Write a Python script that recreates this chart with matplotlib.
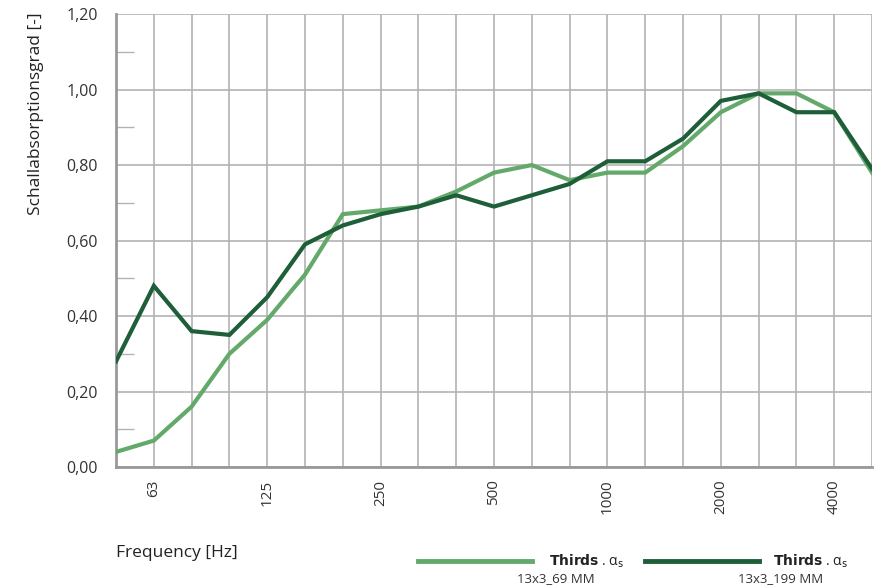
import matplotlib
matplotlib.use("Agg")
import matplotlib.pyplot as plt
from matplotlib.lines import Line2D
from matplotlib.ticker import MultipleLocator, FixedLocator

plt.rcParams['font.family'] = ['Open Sans', 'DejaVu Sans']
plt.rcParams['mathtext.fontset'] = 'dejavusans'

# --- Data ---
freqs = ["50", "63", "80", "100", "125", "160", "200", "250", "315", "400", "500",
         "630", "800", "1000", "1250", "1600", "2000", "2500", "3150", "4000", "5000"]
shown_labels = ["63", "125", "250", "500", "1000", "2000", "4000"]

alpha_69 = [0.04, 0.07, 0.16, 0.30, 0.39, 0.51, 0.67, 0.68, 0.69, 0.73, 0.78,
            0.80, 0.76, 0.78, 0.78, 0.85, 0.94, 0.99, 0.99, 0.94, 0.78]
alpha_199 = [0.28, 0.48, 0.36, 0.35, 0.45, 0.59, 0.64, 0.67, 0.69, 0.72, 0.69,
             0.72, 0.75, 0.81, 0.81, 0.87, 0.97, 0.99, 0.94, 0.94, 0.79]

LIGHT = "#62a96a"
DARK = "#1e5e38"
GRID = "#b3b3b3"

fig = plt.figure(figsize=(8.81, 5.87), dpi=100)
ax = fig.add_axes([0.1317, 0.2044, 0.8581, 0.7716])

x = list(range(len(freqs)))
ax.plot(x, alpha_69, color=LIGHT, lw=3, solid_joinstyle='miter', zorder=3)
ax.plot(x, alpha_199, color=DARK, lw=3, solid_joinstyle='miter', zorder=4)

ax.set_xlim(0, len(freqs) - 1)
ax.set_ylim(0, 1.2)

# x ticks: gridline at every third-octave band, labels only at octaves
ax.xaxis.set_major_locator(FixedLocator(x))
ax.set_xticklabels([f if f in shown_labels else "" for f in freqs],
                   rotation=90, fontsize=11, color="#333333")
ax.tick_params(axis='x', length=0, pad=9)

ax.yaxis.set_major_locator(MultipleLocator(0.2))
ax.yaxis.set_minor_locator(MultipleLocator(0.1))
ax.set_yticklabels([f"{v:.2f}".replace(".", ",") for v in ax.get_yticks()],
                   fontsize=11.5, color="#333333")
ax.tick_params(axis='y', which='major', length=0, pad=13)
ax.tick_params(axis='y', which='minor', direction='in', length=13, width=1, color=GRID)

ax.grid(True, which='major', color=GRID, lw=1.2)
ax.set_axisbelow(True)

for s in ["top", "right"]:
    ax.spines[s].set_visible(False)
for s in ["left", "bottom"]:
    ax.spines[s].set_color("#999999")
    ax.spines[s].set_linewidth(2)

ax.set_ylabel("Schallabsorptionsgrad [-]", fontsize=12.5, color="#222222")
ax.yaxis.set_label_coords(-0.095, 0.78)
fig.text(116 / 881, 1 - 553 / 587, "Frequency [Hz]", fontsize=12.5, color="#222222",
         ha='left', va='center')

# --- Legend ---
def legend_entry(x0, x1, color, name, tx, nx):
    fig.add_artist(Line2D([x0 / 881, x1 / 881], [1 - 561 / 587] * 2, color=color, lw=3.5))
    fig.text(tx / 881, 1 - 561 / 587, r"$\bf{Thirds}$ . α$_\mathrm{s}$",
             fontsize=10, color="#222222", ha='right', va='center')
    fig.text(nx / 881, 1 - 579 / 587, name, fontsize=9.5, color="#333333",
             ha='center', va='center')

legend_entry(418, 532, LIGHT, "13x3_69 MM", 624, 556)
legend_entry(645, 759, DARK, "13x3_199 MM", 848, 781)

fig.savefig("out.png", dpi=100)
